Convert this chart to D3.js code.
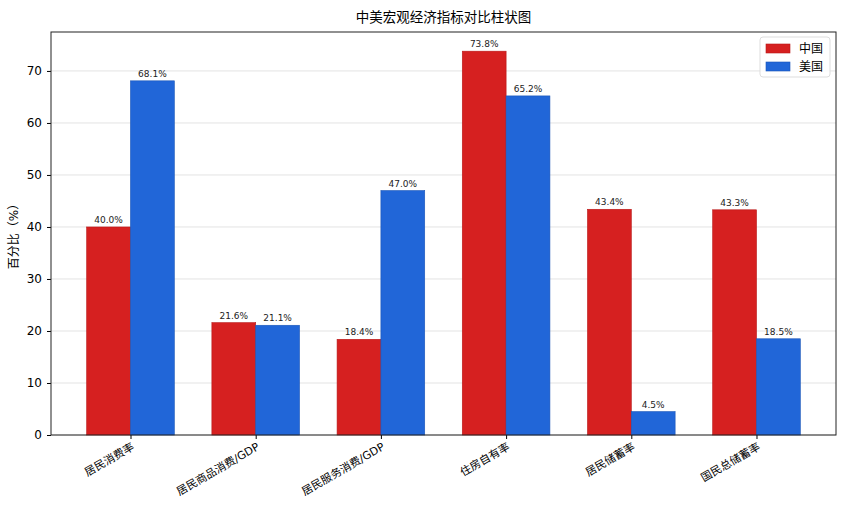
<!DOCTYPE html>
<html>
<head>
<meta charset="utf-8">
<script src="https://cdn.jsdelivr.net/npm/d3@7"></script>
<style>
  body { margin: 0; background: #fff; }
  text { font-family: "DejaVu Sans", "Noto Sans CJK SC", sans-serif; }
</style>
</head>
<body>
<div id="chart"></div>
<script>
var categories = ["居民消费率", "居民商品消费/GDP", "居民服务消费/GDP", "住房自有率", "居民储蓄率", "国民总储蓄率"];
var chinaValues = [40.0, 21.6, 18.4, 73.8, 43.4, 43.3];
var usValues = [68.1, 21.1, 47.0, 65.2, 4.5, 18.5];
var seriesNames = ["中国", "美国"];
var yTicks = [0, 10, 20, 30, 40, 50, 60, 70];

var colors = ["#d62020", "#2166d8"];
var edges = ["#b81818", "#1a55b8"];

var margin = { top: 32, right: 14, bottom: 75, left: 51 },
    width = 850 - margin.left - margin.right,
    height = 510 - margin.top - margin.bottom;

var svg = d3.select("#chart")
    .append("svg")
    .attr("width", 850)
    .attr("height", 510)
    .append("g")
    .attr("transform", "translate(" + margin.left + "," + margin.top + ")");

var barW = 0.35;
// matplotlib-like x limits with 5% padding
var lo = -barW, hi = categories.length - 1 + barW, pad = (hi - lo) * 0.05;
var x = d3.scaleLinear().domain([lo - pad, hi + pad]).range([0, width]);

var maxV = d3.max(chinaValues.concat(usValues));
var y = d3.scaleLinear().domain([0, maxV * 1.05]).range([height, 0]);

// grid
svg.selectAll(".grid")
    .data(yTicks)
    .enter()
    .append("line")
    .attr("x1", 0).attr("x2", width)
    .attr("y1", function (d) { return y(d); })
    .attr("y2", function (d) { return y(d); })
    .style("stroke", "#e3e3e3")
    .style("stroke-width", 1);

var series = [chinaValues, usValues];
series.forEach(function (vals, s) {
    var off = s === 0 ? -barW : 0;
    svg.selectAll(".bar" + s)
        .data(vals)
        .enter()
        .append("rect")
        .attr("x", function (d, i) { return x(i + off); })
        .attr("y", function (d) { return y(d); })
        .attr("width", x(barW) - x(0))
        .attr("height", function (d) { return height - y(d); })
        .style("fill", colors[s])
        .style("stroke", edges[s])
        .style("stroke-width", 0.6);

    svg.selectAll(".lbl" + s)
        .data(vals)
        .enter()
        .append("text")
        .attr("x", function (d, i) { return x(i + off + barW / 2); })
        .attr("y", function (d) { return y(d) - 4; })
        .attr("text-anchor", "middle")
        .style("font-size", "9px")
        .style("fill", "#222")
        .text(function (d) { return d.toFixed(1) + "%"; });
});

// axes
var yAxis = svg.append("g")
    .call(d3.axisLeft(y).tickValues(yTicks).tickSize(4).tickPadding(5));
yAxis.select(".domain").remove();
yAxis.selectAll("text").style("font-size", "12px").style("fill", "#000");
yAxis.selectAll("line").style("stroke", "#000");

var xAxis = svg.append("g")
    .attr("transform", "translate(0," + height + ")")
    .call(d3.axisBottom(x).tickValues(d3.range(categories.length)).tickSize(4)
        .tickFormat(function (d) { return categories[d]; }));
xAxis.select(".domain").remove();
xAxis.selectAll("line").style("stroke", "#000");
xAxis.selectAll("text")
    .style("font-size", "11px")
    .style("fill", "#000")
    .attr("text-anchor", "end")
    .attr("dy", null)
    .attr("y", 0)
    .attr("transform", "translate(4,14) rotate(-30)");

// frame
svg.append("rect")
    .attr("width", width).attr("height", height)
    .style("fill", "none").style("stroke", "#222").style("stroke-width", 1);

// title
svg.append("text")
    .attr("x", width / 2).attr("y", -10)
    .attr("text-anchor", "middle")
    .style("font-size", "13.5px")
    .text("中美宏观经济指标对比柱状图");

// y label
svg.append("text")
    .attr("transform", "translate(-33," + (height / 2) + ") rotate(-90)")
    .attr("text-anchor", "middle")
    .style("font-size", "12px")
    .text("百分比（%）");

// legend
var leg = svg.append("g").attr("transform", "translate(" + (width - 76) + ",5)");
leg.append("rect")
    .attr("width", 70).attr("height", 40).attr("rx", 3)
    .style("fill", "#fff").style("fill-opacity", 0.8)
    .style("stroke", "#ddd");
seriesNames.forEach(function (n, i) {
    leg.append("rect")
        .attr("x", 6).attr("y", 7 + i * 18)
        .attr("width", 24).attr("height", 9)
        .style("fill", colors[i]).style("stroke", edges[i]).style("stroke-width", 0.6);
    leg.append("text")
        .attr("x", 39).attr("y", 16 + i * 18)
        .style("font-size", "12px")
        .text(n);
});
</script>
</body>
</html>
